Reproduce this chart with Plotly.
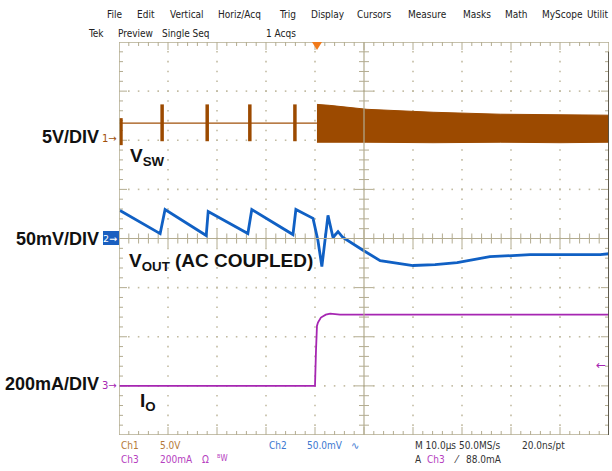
import plotly.graph_objects as go

W, H = 612, 471
X0, X1, YT, YB = 119, 609, 42, 435   # graticule edges in px
PX_T = 10.0 / 49                     # µs per px
PX_V = 1.0 / 49                      # div per px

# ---------------- data (time in µs, trigger at 0; amplitude in divisions) ----------
sw_base_t = [-40, 0.4]
sw_base_v = [2.35, 2.35]
pulse_t = [-39.6, -31.2, -22.0, -13.3, -4.1]
pulse_top = [2.45, 2.73, 2.73, 2.73, 2.73]
pulse_bot = [1.90, 1.98, 1.98, 1.98, 1.98]
burst_t = [0.4, 3.0, 10.6, 24.1, 37.8, 50.0, 60.0]
burst_top = [2.73, 2.71, 2.63, 2.57, 2.53, 2.52, 2.51]
burst_bot = [1.96, 1.95, 1.96, 1.95, 1.96, 1.95, 1.96]

vout_t = [-39.8, -31.6, -30.6, -22.2, -21.8, -13.7, -12.9, -4.5, -3.9, -0.4, 0.6, 1.4,
          2.65, 3.67, 4.7, 5.7, 9.8, 13.3, 17.3, 20.0, 24.5, 29.0, 35.7, 43.9, 58.2, 60.0]
vout_v = [0.57, 0.10, 0.59, 0.06, 0.55, 0.10, 0.59, 0.08, 0.59, 0.41, -0.04, -0.57,
          0.47, 0.02, 0.14, 0.02, -0.24, -0.45, -0.51, -0.55, -0.53, -0.49, -0.37, -0.33, -0.33, -0.31]

io_t = [-40, 0.0, 0.2, 0.4, 0.6, 1.2, 2.2, 3.1, 5.1, 60]
io_v = [-3.0, -3.0, -2.29, -1.78, -1.71, -1.61, -1.55, -1.53, -1.55, -1.55]

menu_items = ["File", "Edit", "Vertical", "Horiz/Acq", "Trig", "Display", "Cursors",
              "Measure", "Masks", "Math", "MyScope", "Utilit"]
menu_x = [105, 135, 168, 216, 277, 309, 355, 406, 461, 503, 540, 585]

C1, C2, C3 = "#a0500a", "#1060c4", "#a626b2"
GRID = "#c2bba2"
GLINE = "#b3ac90"

fig = go.Figure()

# ---------------- graticule ----------------
dx, dy = [], []
for k in range(1, 10):
    if k == 5:
        continue
    tx = -40 + 10 * k
    for j in range(1, 40):
        dx.append(tx); dy.append(-4 + 0.2 * j)
for k in range(1, 8):
    if k == 4:
        continue
    vy = -4 + k
    for j in range(1, 50):
        dx.append(-40 + 2 * j); dy.append(vy)
fig.add_trace(go.Scatter(x=dx, y=dy, mode="markers", hoverinfo="skip",
                         marker=dict(symbol="square", size=1.6, color=GRID, line=dict(width=0))))

tx_, ty_ = [], []
def seg(x0, y0, x1, y1):
    tx_.extend([x0, x1, None]); ty_.extend([y0, y1, None])

for j in range(1, 50):
    t = -40 + 2 * j
    L = 9 if j % 5 == 0 else 5
    seg(t, -L * PX_V, t, L * PX_V)
    seg(t, 4, t, 4 - (8 if j % 5 == 0 else 4) * PX_V)
    seg(t, -4, t, -4 + (8 if j % 5 == 0 else 4) * PX_V)
for j in range(1, 40):
    v = -4 + 0.2 * j
    L = 9 if j % 5 == 0 else 5
    seg(10 - L * PX_T, v, 10 + L * PX_T, v)
    seg(-40, v, -40 + (8 if j % 5 == 0 else 4) * PX_T, v)
    seg(60, v, 60 - (8 if j % 5 == 0 else 4) * PX_T, v)
fig.add_trace(go.Scatter(x=tx_, y=ty_, mode="lines", hoverinfo="skip",
                         line=dict(color=GLINE, width=1)))

fig.add_shape(type="line", x0=-40, x1=60, y0=0, y1=0, line=dict(color=GLINE, width=1.2))
fig.add_shape(type="line", x0=10, x1=10, y0=-4, y1=4, line=dict(color=GLINE, width=1.2))
fig.add_shape(type="rect", x0=-40, x1=60, y0=-4, y1=4, line=dict(color=GLINE, width=1.5))
fig.add_shape(type="line", x0=60, x1=60, y0=-4, y1=3.8, line=dict(color="#3c3a30", width=1.5))

# ---------------- traces ----------------
bx = burst_t + burst_t[::-1]
by = burst_top + burst_bot[::-1]
fig.add_trace(go.Scatter(x=bx, y=by, mode="lines", fill="toself", fillcolor="#9c4a00",
                         line=dict(color="#9c4a00", width=1), hoverinfo="skip"))
fig.add_trace(go.Scatter(x=sw_base_t, y=sw_base_v, mode="lines",
                         line=dict(color=C1, width=1.3), hoverinfo="skip"))
px_, py_ = [], []
for t, a, b in zip(pulse_t, pulse_top, pulse_bot):
    px_.extend([t, t, None]); py_.extend([a, b, None])
fig.add_trace(go.Scatter(x=px_, y=py_, mode="lines",
                         line=dict(color="#9c4a00", width=3.5), hoverinfo="skip"))
fig.add_trace(go.Scatter(x=vout_t, y=vout_v, mode="lines",
                         line=dict(color=C2, width=2.8), hoverinfo="skip"))
fig.add_trace(go.Scatter(x=io_t, y=io_v, mode="lines",
                         line=dict(color=C3, width=1.8), hoverinfo="skip"))

# ---------------- text ----------------
def P(x, y):
    return x / W, 1 - y / H

ann = []
def txt(x, y, s, size=10, color="#333333", xa="left", family="Liberation Sans", bold=False):
    xx, yy = P(x, y)
    ann.append(dict(x=xx, y=yy, xref="paper", yref="paper", text=("<b>%s</b>" % s) if bold else s,
                    showarrow=False, xanchor=xa, yanchor="middle",
                    font=dict(size=size, color=color, family=family)))

MF = "DejaVu Sans Condensed"
for s, x in zip(menu_items, menu_x):
    txt(x, 15, s, size=10, color="#222222", family=MF)
txt(86, 34, "Tek", 10, "#222222", family=MF)
txt(116, 34, "Preview", 10, "#222222", family=MF)
txt(160, 34, "Single Seq", 10, "#222222", family=MF)
txt(264, 34, "1 Acqs", 10, "#222222", family=MF)

txt(101, 137, "5V/DIV", 18, "#111111", xa="right", family="Liberation Sans", bold=True)
txt(101, 239, "50mV/DIV", 18, "#111111", xa="right", family="Liberation Sans", bold=True)
txt(101, 384, "200mA/DIV", 18, "#111111", xa="right", family="Liberation Sans", bold=True)
txt(128, 157, "V<sub>SW</sub>", 19, "#111111", bold=True)
txt(127, 262, "V<sub>OUT</sub> (AC COUPLED)", 19, "#111111", bold=True)
txt(138, 402, "I<sub>O</sub>", 19, "#111111", bold=True)

txt(119, 139, "1→", 10, C1, xa="right", family="DejaVu Sans")
txt(119, 385, "3→", 10, C3, xa="right", family="DejaVu Sans")
fig.add_shape(type="rect", xref="paper", yref="paper", x0=103 / W, x1=119 / W,
              y0=1 - 245 / H, y1=1 - 231 / H, fillcolor="#1a5fc0", line=dict(width=0))
txt(119, 238, "2→", 9.5, "#ffffff", xa="right", family="DejaVu Sans")
txt(608, 365, "←", 12, C3, xa="right", family="DejaVu Sans")
fig.add_shape(type="path", xref="paper", yref="paper",
              path="M %f %f L %f %f L %f %f Z" % (312 / W, 1 - 42 / H, 322 / W, 1 - 42 / H, 317 / W, 1 - 50 / H),
              fillcolor="#f07a1a", line=dict(width=0))

BF = "DejaVu Sans Condensed"
txt(119, 445, "Ch1", 10, "#b57a38", family=BF)
txt(158, 445, "5.0V", 10, "#b57a38", family=BF)
txt(267, 445, "Ch2", 10, "#3c78d0", family=BF)
txt(305, 445, "50.0mV", 10, "#3c78d0", family=BF)
txt(349, 445, "∿", 10, "#3c78d0", family="DejaVu Sans")
txt(413, 445, "M 10.0µs 50.0MS/s", 10, "#333333", family=BF)
txt(520, 445, "20.0ns/pt", 10, "#333333", family=BF)
txt(119, 459, "Ch3", 10, "#b540c0", family=BF)
txt(158, 459, "200mA", 10, "#b540c0", family=BF)
txt(200, 459, "Ω", 10, "#b540c0", family=BF)
txt(215, 458, "<sup>B</sup>W", 8, "#b540c0", family=BF)
txt(413, 459, "A", 10, "#333333", family=BF)
txt(425, 459, "Ch3", 10, "#b540c0", family=BF)
txt(452, 459, "⁄", 10, "#333333", family="DejaVu Sans")
txt(464, 459, "88.0mA", 10, "#333333", family=BF)

fig.update_layout(
    width=W, height=H, margin=dict(l=0, r=0, t=0, b=0),
    paper_bgcolor="white", plot_bgcolor="white", showlegend=False,
    xaxis=dict(range=[-40, 60], domain=[X0 / W, X1 / W], visible=False, fixedrange=True),
    yaxis=dict(range=[-4, 4], domain=[1 - YB / H, 1 - YT / H], visible=False, fixedrange=True),
    annotations=ann,
)
fig.write_html("out.html", config={"displayModeBar": False},
               post_script="document.body.style.margin='0';document.body.style.overflow='hidden';")
